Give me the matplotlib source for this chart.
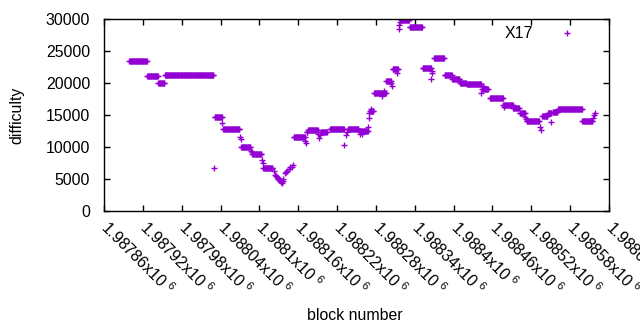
import matplotlib
matplotlib.use("Agg")
import matplotlib.pyplot as plt
import numpy as np

# difficulty runs: first block, last block, value (block = 1987860 + offset)
base_block = 1987860
run_start = [39, 67, 84, 94, 171, 184, 212, 229, 246, 293, 313, 315, 335, 349, 377, 394,
             411, 417, 436, 446, 459, 472, 492, 510, 526, 538, 550, 560, 584, 596, 617,
             632, 642, 653, 677, 686, 693, 701, 739]
run_end = [66, 83, 93, 169, 182, 209, 226, 243, 260, 310, 314, 330, 344, 370, 393, 407,
           416, 435, 443, 454, 471, 491, 505, 525, 537, 549, 559, 582, 593, 616, 631,
           641, 650, 672, 685, 691, 700, 738, 754]
run_value = [23400, 21050, 19950, 21200, 14650, 12800, 10000, 8850, 6700, 11500, 12300,
             12600, 12400, 12750, 12750, 12550, 15600, 18400, 20350, 22200, 29850, 28700,
             22300, 23850, 21200, 20600, 20050, 19800, 19050, 17600, 16550, 16050, 15250,
             14050, 14850, 15250, 15500, 15900, 14050]

# single blocks between runs
pt_block = [170, 183, 210, 211, 227, 228, 244, 245, 262, 264, 266, 267, 268, 269, 270,
            271, 272, 273, 274, 275, 276, 277, 279, 281, 283, 286, 288, 290, 292, 311,
            312, 331, 332, 333, 371, 374, 375, 396, 399, 408, 409, 410, 413, 430, 433,
            444, 445, 453, 455, 456, 457, 505, 506, 507, 583, 586, 618, 651, 652, 674,
            675, 690, 756, 757, 758]
pt_value = [6700, 13700, 11500, 11200, 9300, 9200, 7900, 7450, 6200, 5700, 5400, 5250,
            5100, 5000, 4950, 4850, 4800, 4700, 4550, 4350, 4700, 5000, 5900, 6100, 6300,
            6550, 6800, 6950, 7200, 10900, 10550, 12000, 11400, 11800, 10300, 11900, 12300,
            12050, 12100, 13200, 14500, 15300, 16000, 17900, 18750, 20000, 19550, 21600,
            28450, 29050, 29500, 20700, 21500, 21900, 18500, 19500, 16200, 14750, 14400,
            13200, 12700, 13950, 14500, 15000, 15250]

tick_values = np.arange(1987860, 1988641, 60)

blocks = []
values = []
for s, e, v in zip(run_start, run_end, run_value):
    for b in range(s, e + 1):
        blocks.append(base_block + b)
        values.append(v)
for b, v in zip(pt_block, pt_value):
    blocks.append(base_block + b)
    values.append(v)

plt.rcParams['font.family'] = ['Liberation Sans', 'DejaVu Sans']
plt.rcParams['font.size'] = 11.4
plt.rcParams['mathtext.fontset'] = 'custom'
plt.rcParams['mathtext.rm'] = 'Liberation Sans'

fig = plt.figure(figsize=(6.4, 3.3), dpi=100)
ax = fig.add_axes([104 / 640, 1 - 211 / 330, 505 / 640, 192 / 330])

ax.plot(blocks, values, linestyle='none', marker='+', markersize=4.8,
        markeredgewidth=1.0, color='#9400D3', label='X17')

ax.set_xlim(1987860, 1988640)
ax.set_ylim(0, 30000)
ax.set_yticks(np.arange(0, 30001, 5000))
ax.set_xticks(tick_values)
ax.set_xticklabels([f"{v / 1e6:g}x10 $^{{\\mathrm{{6}}}}$" for v in tick_values],
                   rotation=-45, ha='left', va='center', rotation_mode='anchor')
ax.tick_params(direction='in', length=4, width=1, top=True, right=True,
               labelsize=11.4, colors='black')
ax.tick_params(axis='x', pad=9.5)
ax.tick_params(axis='y', pad=10)
for sp in ax.spines.values():
    sp.set_linewidth(1)

ax.set_xlabel('block number')
ax.set_ylabel('difficulty')
ax.xaxis.set_label_coords(0.496, -0.505)
ax.yaxis.set_label_coords(-0.158, 0.497)

ax.legend(loc='upper right', bbox_to_anchor=(0.9485, 0.963), frameon=False,
          markerfirst=False, handletextpad=1.15, handlelength=2.0, borderpad=0,
          borderaxespad=0, numpoints=1)

fig.savefig('out.png', dpi=100)
